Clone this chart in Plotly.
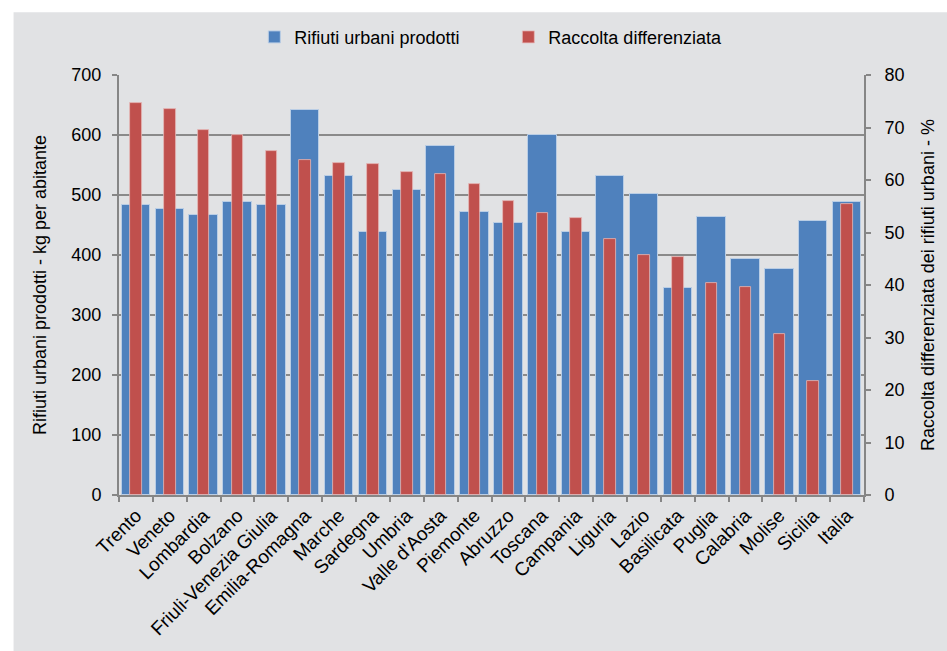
import plotly.graph_objects as go

regions = ["Trento", "Veneto", "Lombardia", "Bolzano", "Friuli-Venezia Giulia",
           "Emilia-Romagna", "Marche", "Sardegna", "Umbria", "Valle d'Aosta",
           "Piemonte", "Abruzzo", "Toscana", "Campania", "Liguria", "Lazio",
           "Basilicata", "Puglia", "Calabria", "Molise", "Sicilia", "Italia"]

rifiuti_kg = [484, 476, 467, 489, 484, 642, 532, 438, 508, 582, 471,
              453, 600, 439, 531, 502, 345, 463, 394, 377, 456, 488]

raccolta_pct = [74.6, 73.6, 69.6, 68.6, 65.5, 63.8, 63.2, 63.1, 61.6, 61.1, 59.3,
                56.0, 53.8, 52.8, 48.8, 45.7, 45.3, 40.4, 39.7, 30.6, 21.7, 55.5]

left_ticks = [0, 100, 200, 300, 400, 500, 600, 700]
right_ticks = [0, 10, 20, 30, 40, 50, 60, 70, 80]

FONT = "Liberation Sans, Arial, sans-serif"
BG = "#e1e2e4"
GRID = "#8a8a8a"
AXIS = "#868686"
FS = 18

fig = go.Figure()
fig.add_trace(go.Bar(
    x=regions, y=rifiuti_kg, name="Rifiuti urbani prodotti",
    marker=dict(color="#4f81bd", line=dict(color="#b9cde5", width=1)),
    width=0.84, yaxis="y",
))
fig.add_trace(go.Bar(
    x=regions, y=raccolta_pct, name="Raccolta differenziata",
    marker=dict(color="#c0504d", line=dict(color="#e6b9b8", width=0.8)),
    width=0.34, yaxis="y2",
))

W, H = 947, 651
L, R, T, B = 119, 79, 75, 154
pw, ph = W - L - R, H - T - B

fig.add_shape(type="rect", xref="paper", yref="paper",
              x0=(13 - L) / pw, x1=(W + 5 - L) / pw,
              y0=(H - B - (H + 5)) / ph, y1=(H - B - 12) / ph,
              fillcolor=BG, line=dict(width=0), layer="below")

fig.update_layout(
    width=W, height=H,
    margin=dict(l=L, r=R, t=T, b=B, pad=0),
    paper_bgcolor="white", plot_bgcolor=BG,
    barmode="overlay", bargap=0,
    font=dict(family=FONT, size=FS, color="#000000"),
    showlegend=True,
    legend=dict(orientation="h", x=0.5226, xanchor="center", y=(H - B - 37) / ph,
                yanchor="middle", font=dict(size=FS), bgcolor="rgba(0,0,0,0)",
                itemwidth=30, traceorder="normal",
                entrywidth=209, entrywidthmode="pixels"),
    xaxis=dict(
        type="category", showgrid=False, showline=True, linecolor=AXIS, linewidth=2,
        ticks="outside", tickson="boundaries", ticklen=5, tickcolor=AXIS, tickwidth=2,
        tickangle=-45, tickfont=dict(size=19), range=[-0.5, len(regions) - 0.5],
    ),
    yaxis=dict(
        range=[0, 700], tickvals=left_ticks, showgrid=True, gridcolor=GRID, gridwidth=2,
        showline=True, linecolor=AXIS, linewidth=2, ticks="outside", ticklen=5,
        tickcolor=AXIS, tickwidth=2, tickfont=dict(size=FS), ticklabelstandoff=7,
        zeroline=False,
        title=dict(text="Rifiuti urbani prodotti - kg per abitante", font=dict(size=FS), standoff=20),
    ),
    yaxis2=dict(
        range=[0, 80], tickvals=right_ticks, overlaying="y", side="right", showgrid=False,
        showline=True, linecolor=AXIS, linewidth=2, ticks="outside", ticklen=5,
        tickcolor=AXIS, tickwidth=2, tickfont=dict(size=FS), ticklabelstandoff=10,
        zeroline=False,
        title=dict(text="Raccolta differenziata dei rifiuti urbani - %", font=dict(size=FS), standoff=18),
    ),
)

fig.write_html("out.html")
